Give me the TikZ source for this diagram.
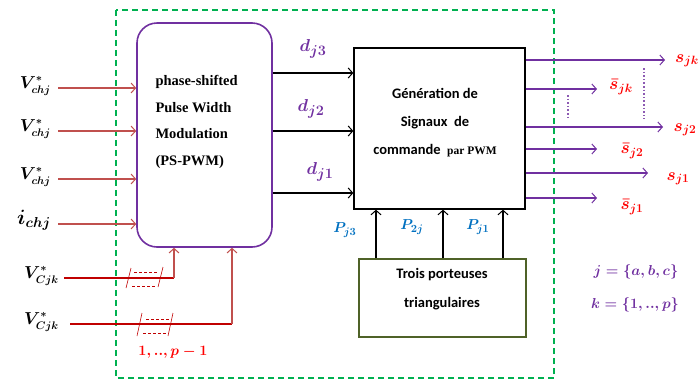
\documentclass[tikz,border=0pt]{standalone}
\usepackage{amsmath,amssymb,bm}
\usepackage{xcolor}
\usepackage{fontspec}
\setmainfont{Liberation Serif}
\newfontfamily\calib{Carlito}
\usepackage{tikz}
\usetikzlibrary{arrows.meta}
\usetikzlibrary{calc}
\usetikzlibrary{positioning}
\definecolor{psviolet}{HTML}{7030A0}
\definecolor{psgreen}{HTML}{00B050}
\definecolor{psolive}{HTML}{4F6228}
\definecolor{psblue}{HTML}{0070C0}
\definecolor{psred}{HTML}{FF0000}
\definecolor{psdark}{HTML}{C00000}
\definecolor{psrose}{HTML}{C0504D}

\begin{document}
\begin{tikzpicture}[x=1pt,y=-1pt]
              \tikzset{>={Straight Barb[length=4.5pt,width=10pt,line width=1pt]}}
              \tikzstyle{inarrow}=[->,draw=psrose,line width=1.3pt]
              \tikzstyle{redline}=[draw=psdark,line width=1.3pt]
              \tikzstyle{darrow}=[->,black,line width=1.3pt]
              \tikzstyle{outarrow}=[->,draw=psviolet,line width=1.3pt]
              \tikzstyle{inlbl}=[anchor=base east,inner xsep=7pt,font=\fontsize{16}{18}\selectfont\mathversion{bold}]
              \tikzstyle{dlbl}=[text=psviolet,font=\fontsize{19}{20}\selectfont\mathversion{bold}]
              \tikzstyle{slbl}=[text=psred,font=\fontsize{17}{18}\selectfont\mathversion{bold}]
              \tikzstyle{plbl}=[text=psblue,font=\fontsize{15.5}{17}\selectfont\mathversion{bold}]
              \tikzstyle{setlbl}=[text=psviolet,font=\fontsize{14}{16}\selectfont\mathversion{bold}]
              \tikzstyle{marker}=[draw=psdark,line width=0.6pt]

              % CONSTANTS
              \useasboundingbox (0,0) rectangle (700,381);
              \draw[psgreen,line width=1.3pt,dash pattern=on 6pt off 4pt] (116,10) rectangle (554,378);

              % blocks
              \node[draw=psviolet,line width=1.6pt,rounded corners=20pt,minimum width=135pt,minimum height=224pt,inner sep=0pt] (pwm) at (204.5,135) {};
              \node[anchor=north west,align=left,font=\bfseries\fontsize{14.5}{26.5}\selectfont] (pwmtxt) at (152,72) {phase-shifted\\Pulse Width\\Modulation\\(PS-PWM)};
              \node[draw,line width=1.3pt,minimum width=171pt,minimum height=161pt,inner sep=0pt] (gen) at (439.5,128.5) {};
              \node[align=center,font=\calib\bfseries\fontsize{14.5}{28}\selectfont] (gentxt) at (435,123) {G\'en\'eration de\\Signaux\ \ de\\commande \ {\rmfamily\fontsize{11.5}{12}\selectfont par PWM}};
              \node[draw=psolive,line width=1.3pt,minimum width=167pt,minimum height=78pt,inner sep=0pt] (tri) at (442.5,298) {};
              \node[align=center,font=\calib\bfseries\fontsize{14.5}{29}\selectfont] (tritxt) at (442,289) {Trois porteuses\\triangulaires};

              % inputs
              \node[inlbl] (v1) at (58,88) {$V^{*}_{chj}$};
              \node[inlbl] (v2) at (58,131) {$V^{*}_{chj}$};
              \node[inlbl] (v3) at (58,179) {$V^{*}_{chj}$};
              \node[inlbl,font=\fontsize{20}{22}\selectfont\mathversion{bold}] (ic) at (58,224) {$i_{chj}$};
              \draw[inarrow] (v1.base east) -- (v1.base east -| pwm.west);
              \draw[inarrow] (v2.base east) -- (v2.base east -| pwm.west);
              \draw[inarrow] (v3.base east) -- (v3.base east -| pwm.west);
              \draw[inarrow] (ic.base east) -- (ic.base east -| pwm.west);

              \node[inlbl,inner xsep=5pt] (vc1) at (64,278) {$V^{*}_{Cjk}$};
              \node[inlbl,inner xsep=11pt] (vc2) at (70,324) {$V^{*}_{Cjk}$};
              \coordinate (c1) at (174,0);
              \coordinate (c2) at (232,0);
              \draw[redline] (vc1.base east) -- (vc1.base east -| c1);
              \draw[inarrow] (vc1.base east -| c1) -- (pwm.south -| c1);
              \draw[redline] (vc2.base east) -- (vc2.base east -| c2);
              \draw[inarrow] (vc2.base east -| c2) -- (pwm.south -| c2);
              % bus markers
              \draw[marker] (126,288) -- (131,268) (158,287) -- (163,267);
              \draw[marker,densely dashed] (134,272) -- (158,272) (132,286) -- (155,286);
              \draw[marker] (137,336) -- (142,313) (168,336) -- (173,313);
              \draw[marker,densely dashed] (146,319) -- (171,319) (143,333) -- (167,333);
              \node[text=psred,font=\fontsize{15}{16}\selectfont\mathversion{bold}] (np) at (173,352) {$1,..,p-1$};

              % duty cycles
              \draw[darrow] (pwm.east |- 0,73) -- (gen.west |- 0,73);
              \draw[darrow] (pwm.east |- 0,131) -- (gen.west |- 0,131);
              \draw[darrow] (pwm.east |- 0,193) -- (gen.west |- 0,193);
              \node[dlbl] (d3) at (313,49) {$d_{j3}$};
              \node[dlbl] (d2) at (311,109) {$d_{j2}$};
              \node[dlbl] (d1) at (320,172) {$d_{j1}$};

              % carriers
              \coordinate (pa) at (376,0);
              \coordinate (pb) at (443,0);
              \coordinate (pc) at (503,0);
              \draw[darrow] (tri.north -| pa) -- (gen.south -| pa);
              \draw[darrow] (tri.north -| pb) -- (gen.south -| pb);
              \draw[darrow] (tri.north -| pc) -- (gen.south -| pc);
              \node[plbl] (p3) at (345,230) {$P_{j3}$};
              \node[plbl] (p2) at (412,227) {$P_{2j}$};
              \node[plbl] (p1) at (478,227) {$P_{j1}$};

              % switching signals
              \coordinate (ojk) at (665,60);
              \coordinate (ojkb) at (597,89);
              \coordinate (oj2) at (663,127);
              \coordinate (oj2b) at (597,149);
              \coordinate (oj1) at (648,173);
              \coordinate (oj1b) at (597,198);
              \draw[outarrow] (gen.east |- ojk) -- (ojk);
              \draw[outarrow] (gen.east |- ojkb) -- (ojkb);
              \draw[outarrow] (gen.east |- oj2) -- (oj2);
              \draw[outarrow] (gen.east |- oj2b) -- (oj2b);
              \draw[outarrow] (gen.east |- oj1) -- (oj1);
              \draw[outarrow] (gen.east |- oj1b) -- (oj1b);
              \node[slbl] (sjk) at (687,61) {$s_{jk}$};
              \node[slbl] (sjkb) at (621,87) {$\bar{s}_{jk}$};
              \node[slbl] (sj2) at (685,130) {$s_{j2}$};
              \node[slbl] (sj2b) at (632,151) {$\bar{s}_{j2}$};
              \node[slbl] (sj1) at (678,179) {$s_{j1}$};
              \node[slbl] (sj1b) at (632,207) {$\bar{s}_{j1}$};
              \draw[psviolet!80,line width=1.6pt,dotted] (568,95) -- (568,119);
              \draw[psviolet!80,line width=1.6pt,dotted] (644,68) -- (644,119);

              % index sets
              \node[setlbl] (jset) at (636,272) {$j=\{a,b,c\}$};
              \node[setlbl] (kset) at (635,305) {$k=\{1,..,p\}$};
\end{tikzpicture}
\end{document}
